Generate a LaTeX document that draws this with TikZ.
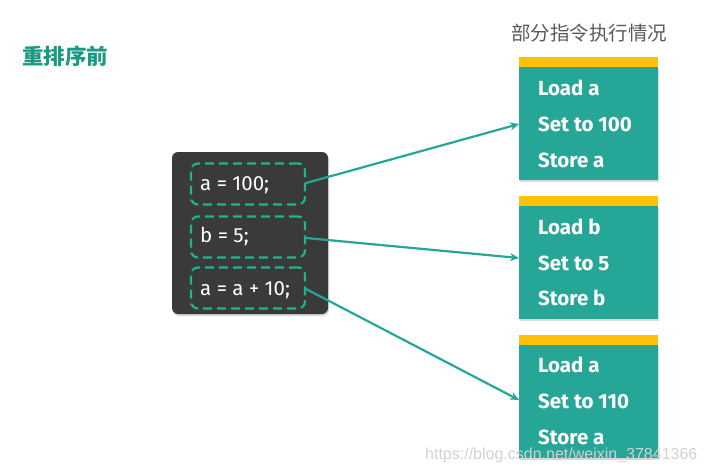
\documentclass[tikz,border=0pt]{standalone}
\usepackage{fontspec}
\setmainfont{Fira Sans}
\newfontfamily\cjk{Noto Sans CJK SC}
\newfontfamily\wm{Liberation Sans}
\usetikzlibrary{arrows.meta,shadows}
\definecolor{teal1}{RGB}{38,166,150}
\definecolor{tealtitle}{RGB}{26,154,128}
\definecolor{dashc}{RGB}{30,180,140}
\definecolor{darkbg}{RGB}{58,58,58}
\definecolor{yel}{RGB}{255,193,7}
\tikzset{
  codebox/.style={draw=dashc, dashed, dash pattern=on 9pt off 5pt, line width=2.2pt, rounded corners=7pt, minimum width=114pt, minimum height=41pt, inner sep=0pt},
  codetext/.style={text=white, font=\fontsize{20.5}{22}\selectfont, anchor=west, inner sep=0pt},
  instr/.style={fill=teal1, minimum width=139pt, minimum height=113pt, inner sep=0pt, drop shadow={shadow xshift=1pt, shadow yshift=-2pt, opacity=0.3}},
  stripe/.style={fill=yel, minimum width=139pt, minimum height=10pt, inner sep=0pt},
  itext/.style={text=white, font=\bfseries\fontsize{20.5}{22}\selectfont, anchor=west, inner sep=0pt},
  conn/.style={draw=teal1, line width=2.2pt, -{Stealth[length=9pt,width=8pt]}}
}
\begin{document}
\begin{tikzpicture}[x=1pt,y=-1pt]
\useasboundingbox (0,0) rectangle (707,474);
\node[anchor=west, text=tealtitle, font=\cjk\bfseries\fontsize{21.5}{23}\selectfont, inner sep=0pt] (title) at (22,56) {重排序前};
\node[text=black!65, font=\cjk\fontsize{19.5}{21}\selectfont, inner sep=0pt] (head) at (589,33) {部分指令执行情况};
% code block
\node[fill=darkbg, rounded corners=6pt, minimum width=156pt, minimum height=162pt, inner sep=0pt, drop shadow={shadow xshift=1pt, shadow yshift=-2pt, opacity=0.3}] (code) at (250,233) {};
\node[codebox] (c1) at (248,184) {};
\node[codebox] (c2) at (248,237) {};
\node[codebox] (c3) at (248,288) {};
\node[codetext] (t1) at (200,185) {a = 100;};
\node[codetext] (t2) at (200,237) {b = 5;};
\node[codetext] (t3) at (200,290) {a = a + 10;};
% instruction boxes
\node[instr] (b1) at (588.5,123.5) {};
\node[stripe] (s1) at (588.5,62) {};
\node[instr] (b2) at (588.5,262.5) {};
\node[stripe] (s2) at (588.5,201) {};
\node[instr] (b3) at (588.5,401.5) {};
\node[stripe] (s3) at (588.5,340) {};
\node[itext] (l11) at (538,88) {Load a};
\node[itext] (l12) at (538,124) {Set to 100};
\node[itext] (l13) at (538,160) {Store a};
\node[itext] (l21) at (538,227) {Load b};
\node[itext] (l22) at (538,263) {Set to 5};
\node[itext] (l23) at (538,298) {Store b};
\node[itext] (l31) at (538,365) {Load a};
\node[itext] (l32) at (538,401) {Set to 110};
\node[itext] (l33) at (538,437) {Store a};
% connectors
\coordinate (e1) at (519,124);
\coordinate (e2) at (519,258);
\coordinate (e3) at (519,400);
\draw[conn] (c1.east) ++(0,-1) -- (e1);
\draw[conn] (c2.east) ++(0,1) -- (e2);
\draw[conn] (c3.east) ++(0,1) -- (e3);
\node[anchor=west, text=black!18, font=\wm\fontsize{16}{18}\selectfont, inner sep=0pt] (wmk) at (425,455) {https://blog.csdn.net/weixin\_37841366};
\end{tikzpicture}
\end{document}
